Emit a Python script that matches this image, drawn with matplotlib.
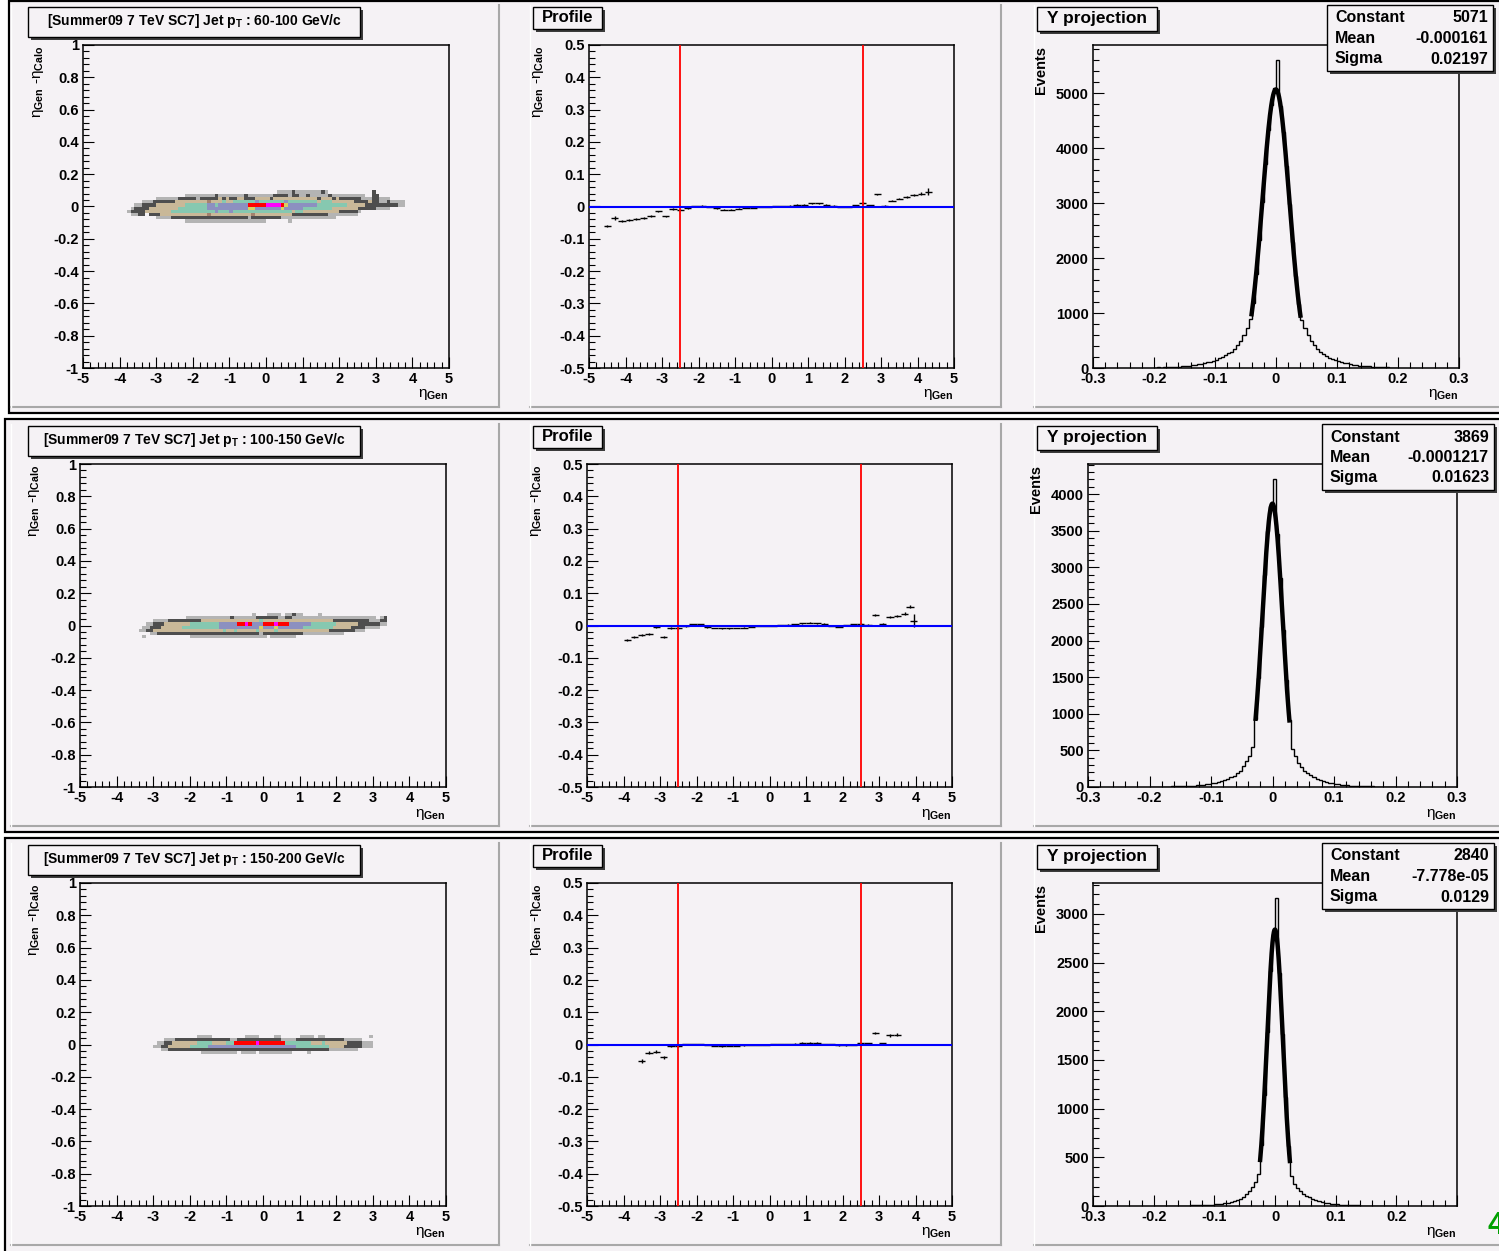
import numpy as np
import matplotlib
matplotlib.use('Agg')
import matplotlib.pyplot as plt
from matplotlib.patches import Rectangle
from matplotlib.lines import Line2D
from matplotlib.colors import ListedColormap, BoundaryNorm
from matplotlib.ticker import MultipleLocator, FixedLocator, FixedFormatter, FuncFormatter

plt.rcParams['font.family'] = ['Liberation Sans', 'DejaVu Sans']
plt.rcParams['font.weight'] = 'bold'
plt.rcParams['mathtext.fontset'] = 'custom'
plt.rcParams['mathtext.rm'] = 'Liberation Sans:bold'
plt.rcParams['mathtext.bf'] = 'Liberation Sans:bold'
plt.rcParams['mathtext.it'] = 'Liberation Sans:italic'

# ---------------- data ----------------
pt_bins = ['60-100', '100-150', '150-200']

# 2D histogram, colour level per cell (0 = empty), cells 0.1 x 0.02, rows top -> bottom
# row 1: x from -3.8, y top 0.10
cells1 = [
    ".......... .......... .......... .......... .111121111 11121..... .......2.. ......",
    ".......... ......1111 1111211111 1121111111 2222122112 1111121111 11111..22. ......",
    "........11 1111222221 2222232322 3322233332 3333333333 3323332322 2222111221 11....",
    "....111222 2223333333 3343335335 5555565555 5556555555 5535553333 3322223221 121111",
    "..11222233 3333335555 5566566666 6668888899 9987666666 6655555555 3333322222 222211",
    ".122223333 3333555555 5566666666 6667766666 6676666655 5555553333 3332222211 11....",
    "1222233333 3355555555 5555655565 5555555555 5555535533 3333333322 2221...... ......",
    ".1122.2223 3333333333 3343333333 3333433333 3333322222 2222211111 111....... ......",
    "........11 1122222222 2222222222 2221222222 2211111111 1111111... .......... ......",
    ".......... ......1111 1111111111 11111111.. ....1..... .......... .......... ......",
]
# row 2: x from -3.4, y top 0.08
cells2 = [
    ".......... .......... .......... .1...1111. 11211....1 .......... ........",
    ".......... ...1111111 1111121111 1122222211 2211111111 1111111111 11111.12",
    "....111122 2222222333 3333333333 3335333333 3333333333 3332222222 22211122",
    "..11222333 3333555555 5566666889 8666888988 8666666555 5555333333 22222211",
    ".112223333 3355555555 5566666666 6667666766 6666655555 5553333322 221111..",
    "1122333333 3333333333 3335335333 3353333533 3333333333 3322222221 11......",
    "...1122222 2222222222 2222222222 2221222222 2222211111 111111.... ........",
    ".1........ ....111111 1111111111 11111.1111 111....... .......... ........",
]
# row 3: x from -3.0, y top 0.06
cells3 = [
    ".......... ..1111.... .....1111. ...11..... 1111.11... .........1",
    "...1112222 2222222222 2112222222 2222211112 2222222222 2211111...",
    ".112233333 3355553333 5588888898 8888885555 5553335333 3332222111",
    "1122333333 5555566666 6666666666 6666666665 5555555533 3322222111",
    "..11222222 2222222222 2222222222 2222222222 2222222211 111111....",
    ".......... ...1111111 111.1111.1 11111111.. ..1....... ..........",
]
cells_x0 = [-3.8, -3.4, -3.0]
cells_ytop = [0.10, 0.08, 0.06]
level_colors = ['#b4b4b4', '#4e4e4e', '#c9b898', '#a4826e', '#86c8b0',
                '#8c90c0', '#d8d060', '#ff0000', '#ff00ff']

# profiles
p1_x = [-4.5, -4.3, -4.1, -3.9, -3.7, -3.5, -3.3, -3.1, -2.9, -2.7, -2.5, -2.3, -2.1, -1.9, -1.7,
        -1.5, -1.3, -1.1, -0.9, -0.7, -0.5, -0.3, -0.1, 0.1, 0.3, 0.5, 0.7, 0.9, 1.1, 1.3,
        1.5, 1.7, 1.9, 2.1, 2.3, 2.5, 2.7, 2.9, 3.1, 3.3, 3.5, 3.7, 3.9, 4.1, 4.3]
p1_y = [-0.060, -0.035, -0.045, -0.043, -0.040, -0.037, -0.030, -0.015, -0.030, -0.008,
        -0.010, -0.006, 0.002, 0.003, -0.002, -0.006, -0.010, -0.010, -0.007, -0.005,
        -0.004, -0.002, 0.000, 0.002, 0.002, 0.003, 0.006, 0.006, 0.010, 0.010,
        0.006, 0.003, -0.001, 0.000, 0.004, 0.010, 0.004, 0.038, 0.003, 0.018,
        0.024, 0.030, 0.035, 0.040, 0.046]
p1_e = [0.003, 0.006, 0.004, 0.003, 0.003, 0.003, 0.003, 0.002, 0.002, 0.002, 0.002, 0.002,
        0.001, 0.001, 0.001, 0.001, 0.001, 0.001, 0.001, 0.001, 0.001, 0.001, 0.001, 0.001,
        0.001, 0.001, 0.001, 0.001, 0.001, 0.001, 0.001, 0.001, 0.001, 0.001,
        0.002, 0.003, 0.002, 0.002, 0.002, 0.002, 0.002, 0.003, 0.003, 0.004, 0.010]

p2_x = [-3.9, -3.7, -3.5, -3.3, -3.1, -2.9, -2.7, -2.5, -2.3, -2.1, -1.9, -1.7, -1.5, -1.3,
        -1.1, -0.9, -0.7, -0.5, -0.3, -0.1, 0.1, 0.3, 0.5, 0.7, 0.9, 1.1, 1.3, 1.5, 1.7,
        1.9, 2.1, 2.3, 2.5, 2.7, 2.9, 3.1, 3.3, 3.5, 3.7, 3.85, 3.95]
p2_y = [-0.045, -0.035, -0.030, -0.025, -0.005, -0.035, -0.008, -0.008, -0.003, 0.004,
        0.004, -0.006, -0.008, -0.009, -0.009, -0.008, -0.007, -0.005, -0.001, 0.000,
        0.000, 0.002, 0.003, 0.004, 0.007, 0.009, 0.007, 0.006, 0.000, -0.005,
        0.002, 0.004, 0.006, 0.003, 0.032, 0.005, 0.025, 0.030, 0.037, 0.058, 0.015]
p2_e = [0.004, 0.004, 0.003, 0.003, 0.003, 0.003, 0.002, 0.002, 0.002,
        0.001, 0.001, 0.001, 0.001, 0.001, 0.001, 0.001, 0.001, 0.001, 0.001, 0.001, 0.001,
        0.001, 0.001, 0.001, 0.001, 0.001, 0.001, 0.001, 0.001, 0.001, 0.001, 0.001,
        0.002, 0.002, 0.003, 0.003, 0.003, 0.003, 0.004, 0.005, 0.020]

p3_x = [-3.5, -3.3, -3.1, -2.9, -2.7, -2.5, -2.3, -2.1, -1.9, -1.7, -1.5, -1.3, -1.1, -0.9,
        -0.7, -0.5, -0.3, -0.1, 0.1, 0.3, 0.5, 0.7, 0.9, 1.1, 1.3, 1.5, 1.7, 1.9, 2.1, 2.3,
        2.5, 2.7, 2.9, 3.1, 3.3, 3.5]
p3_y = [-0.050, -0.025, -0.022, -0.040, -0.005, -0.006, 0.002, 0.002, 0.002, -0.001,
        -0.005, -0.006, -0.005, -0.004, -0.003, -0.001, 0.000, 0.000, 0.001, 0.002,
        0.002, 0.003, 0.006, 0.006, 0.006, 0.002, 0.002, -0.003, -0.003, 0.000,
        0.004, 0.004, 0.035, 0.004, 0.028, 0.030]
p3_e = [0.006, 0.005, 0.004, 0.004, 0.003,
        0.001, 0.001, 0.001, 0.001, 0.001, 0.001, 0.001, 0.001, 0.001, 0.001, 0.001, 0.001,
        0.001, 0.001, 0.001, 0.001, 0.001, 0.001, 0.001, 0.001, 0.001, 0.001, 0.001, 0.001,
        0.001, 0.001,
        0.002, 0.004, 0.002, 0.006, 0.005]

# Y projections, bins of 0.005 from -0.2 to 0.2
h1 = [8, 10, 9, 12, 14, 15, 18, 20, 25, 30,
      35, 42, 50, 58, 68, 80, 92, 105, 118, 135,
      150, 175, 200, 230, 265, 300, 350, 420, 500, 600,
      730, 900, 1190, 1710, 2330, 3020, 3710, 4330, 4790, 5100,
      5600, 4770, 4290, 3670, 2980, 2290, 1680, 1160, 880, 720,
      600, 500, 420, 350, 290, 250, 210, 185, 160, 140,
      125, 110, 95, 82, 70, 60, 52, 45, 38, 33,
      28, 24, 20, 17, 15, 13, 11, 9, 8, 7]
h2 = [3, 3, 4, 4, 5, 5, 6, 7, 8, 9,
      10, 12, 14, 16, 19, 22, 26, 30, 35, 41,
      48, 56, 66, 78, 92, 110, 130, 155, 185, 225,
      280, 350, 430, 540, 930, 1490, 2180, 2890, 3490, 3830,
      4200, 3460, 2860, 2140, 1460, 910, 520, 420, 330, 270,
      225, 190, 160, 135, 115, 100, 85, 72, 60, 50,
      42, 36, 30, 26, 22, 19, 16, 14, 12, 10,
      9, 8, 7, 6, 5, 5, 4, 4, 3, 3]
h3 = [2, 2, 2, 2, 3, 3, 3, 3, 4, 4,
      5, 5, 6, 7, 8, 9, 10, 11, 13, 15,
      18, 21, 25, 30, 35, 42, 50, 62, 75, 95,
      120, 155, 200, 250, 330, 625, 1140, 1785, 2410, 2790,
      3160, 2390, 1765, 1120, 615, 310, 230, 180, 150, 125,
      105, 90, 75, 60, 50, 42, 35, 29, 24, 20,
      17, 14, 12, 10, 9, 8, 7, 6, 5, 5,
      4, 4, 3, 3, 3, 3, 2, 2, 2, 2]
h_edges = np.linspace(-0.2, 0.2, 81)

# gaussian fits: constant, mean, sigma, fit range
fit_const = [5071, 3869, 2840]
fit_mean = [-0.000161, -0.0001217, -7.778e-05]
fit_sigma = [0.02197, 0.01623, 0.0129]
fit_range = [(-0.040, 0.040), (-0.0275, 0.0275), (-0.0245, 0.0245)]
stat_vals = [['5071', '-0.000161', '0.02197'],
             ['3869', '-0.0001217', '0.01623'],
             ['2840', '-7.778e-05', '0.0129']]

hist_yticks = [[0, 1000, 2000, 3000, 4000, 5000],
               [0, 500, 1000, 1500, 2000, 2500, 3000, 3500, 4000],
               [0, 500, 1000, 1500, 2000, 2500, 3000]]
hist_yminor = [200, 100, 100]
hist_xticks = [-0.3, -0.2, -0.1, 0, 0.1, 0.2, 0.3]
hist_xlabels = [['-0.3', '-0.2', '-0.1', '0', '0.1', '0.2', '0.3'],
                ['-0.3', '-0.2', '-0.1', '0', '0.1', '0.2', '0.3'],
                ['-0.3', '-0.2', '-0.1', '0', '0.1', '0.2', '']]

profiles = [(p1_x, p1_y, p1_e), (p2_x, p2_y, p2_e), (p3_x, p3_y, p3_e)]
hists = [h1, h2, h3]
cells = [cells1, cells2, cells3]

# ---------------- layout (pixels) ----------------
W, H = 1499, 1251
PAD = '#f5f2f5'
row_top = [0, 419, 838]
row_box = [(9, 1, 1505, 413), (5, 419, 1505, 832), (5, 838, 1505, 1255)]
ax1_x = [(83, 449), (80, 446), (80, 446)]
ax2_x = [(589, 954), (587, 952), (587, 952)]
ax3_x = [(1093, 1459), (1088, 1457), (1093, 1457)]
stat_x = [(1327, 1493), (1322, 1494), (1322, 1494)]

fig = plt.figure(figsize=(W / 100, H / 100), dpi=100)
fig.patch.set_facecolor('white')


def fx(x):
    return x / W


def fy(y):
    return 1 - y / H


def rect(x0, y0, x1, y1, z, **kw):
    fig.add_artist(Rectangle((fx(x0), fy(y1)), (x1 - x0) / W, (y1 - y0) / H,
                             transform=fig.transFigure, zorder=z, **kw))


def line(xs, ys, z=-1, **kw):
    fig.add_artist(Line2D([fx(x) for x in xs], [fy(y) for y in ys],
                          transform=fig.transFigure, zorder=z, **kw))


def box(x0, y0, x1, y1):
    rect(x0 + 3, y0 + 3, x1 + 3, y1 + 3, 5, facecolor='#3c3c3c', edgecolor='none')
    rect(x0, y0, x1, y1, 5.5, facecolor=PAD, edgecolor='black', linewidth=1.0)


def add_ax(x0, x1, r):
    y0, y1 = r + 45, r + 368
    ax = fig.add_axes([fx(x0), fy(y1), (x1 - x0) / W, (y1 - y0) / H])
    ax.set_facecolor('none')
    for s in ax.spines.values():
        s.set_linewidth(1.1)
    ax.tick_params(which='both', direction='in', top=False, right=False,
                   width=0.8, labelsize=10.5, pad=3)
    ax.tick_params(which='major', length=8)
    ax.tick_params(which='minor', length=4)
    return ax


fmt = FuncFormatter(lambda v, p: f'{round(v, 6) + 0.0:g}')
cmap = ListedColormap(level_colors)
norm = BoundaryNorm(np.arange(0.5, 10.5, 1), cmap.N)
eta_gen = 'η$_{\\mathbf{Gen}}$'
eta_diff = 'η$_{\\mathbf{Gen}}$ -η$_{\\mathbf{Calo}}$'

for i in range(3):
    r = row_top[i]
    bx = row_box[i]
    rect(bx[0], bx[1], bx[2], bx[3], -5, facecolor=PAD, edgecolor='black', linewidth=1.6)
    for (px0, px1) in [(11, 499), (530, 1001), (1034, 1505)]:
        line([px0, px1], [r + 407, r + 407], color='#a8a8a8', linewidth=1.5)
        line([px1, px1], [r + 5, r + 407], color='#a8a8a8', linewidth=1.5)
        line([px0, px0], [r + 5, r + 407], color='white', linewidth=1.0)

    # ---- 2D histogram ----
    ax = add_ax(*ax1_x[i], r)
    rows = ["".join(s.split()) for s in cells[i]]
    ncol = max(len(s) for s in rows)
    z = np.array([[0 if c == '.' else int(c) for c in s.ljust(ncol, '.')[:ncol]] for s in rows])
    z = np.ma.masked_equal(z[::-1], 0)
    xe = cells_x0[i] + 0.1 * np.arange(ncol + 1)
    ye = cells_ytop[i] - 0.02 * len(rows) + 0.02 * np.arange(len(rows) + 1)
    ax.pcolormesh(xe, ye, z, cmap=cmap, norm=norm)
    ax.set_xlim(-5, 5)
    ax.set_ylim(-1, 1)
    ax.xaxis.set_major_locator(MultipleLocator(1))
    ax.xaxis.set_minor_locator(MultipleLocator(0.2))
    ax.yaxis.set_major_locator(MultipleLocator(0.2))
    ax.yaxis.set_minor_locator(MultipleLocator(0.04))
    ax.xaxis.set_major_formatter(fmt)
    ax.yaxis.set_major_formatter(fmt)
    x0, x1 = ax1_x[i]
    fig.text(fx(x1), fy(r + 395), eta_gen, ha='right', va='center', fontsize=11,
             fontweight='normal')
    fig.text(fx(x0 - 45), fy(r + 46), eta_diff, ha='center', va='top', rotation=90,
             fontsize=11, fontweight='normal')
    box(28, r + 7, 360, r + 37)
    fig.text(fx(194), fy(r + 21),
             '[Summer09 7 TeV SC7] Jet p$_{\\mathbf{T}}$ : ' + pt_bins[i] + ' GeV/c',
             ha='center', va='center', fontsize=10, zorder=7)

    # ---- profile ----
    ax = add_ax(*ax2_x[i], r)
    px, py, pe = profiles[i]
    ax.errorbar(px, py, xerr=0.1, yerr=pe, fmt='none', ecolor='black', elinewidth=1.0,
                zorder=2)
    ax.axvline(-2.5, color='#ff0000', linewidth=1.3, zorder=3)
    ax.axvline(2.5, color='#ff0000', linewidth=1.3, zorder=3)
    ax.axhline(0, color='#0000ff', linewidth=1.5, zorder=3)
    ax.set_xlim(-5, 5)
    ax.set_ylim(-0.5, 0.5)
    ax.xaxis.set_major_locator(MultipleLocator(1))
    ax.xaxis.set_minor_locator(MultipleLocator(0.2))
    ax.yaxis.set_major_locator(MultipleLocator(0.1))
    ax.yaxis.set_minor_locator(MultipleLocator(0.02))
    ax.xaxis.set_major_formatter(fmt)
    ax.yaxis.set_major_formatter(fmt)
    x0, x1 = ax2_x[i]
    fig.text(fx(x1), fy(r + 395), eta_gen, ha='right', va='center', fontsize=11,
             fontweight='normal')
    fig.text(fx(x0 - 51), fy(r + 46), eta_diff, ha='center', va='top', rotation=90,
             fontsize=11, fontweight='normal')
    box(533, r + 7, 602, r + 29)
    fig.text(fx(567.5), fy(r + 17.5), 'Profile', ha='center', va='center', fontsize=12,
             zorder=7)

    # ---- Y projection ----
    ax = add_ax(*ax3_x[i], r)
    ax.stairs(hists[i], h_edges, color='black', linewidth=1.0)
    lo, hi = fit_range[i]
    fxs = np.linspace(lo, hi, 200)
    ax.plot(fxs, fit_const[i] * np.exp(-0.5 * ((fxs - fit_mean[i]) / fit_sigma[i]) ** 2),
            color='black', linewidth=3.2)
    ax.set_xlim(-0.3, 0.3)
    ax.set_ylim(0, 1.05 * max(hists[i]))
    ax.xaxis.set_major_locator(FixedLocator(hist_xticks))
    ax.xaxis.set_major_formatter(FixedFormatter(hist_xlabels[i]))
    ax.xaxis.set_minor_locator(MultipleLocator(0.02))
    ax.yaxis.set_major_locator(FixedLocator(hist_yticks[i]))
    ax.yaxis.set_major_formatter(FixedFormatter([str(v) for v in hist_yticks[i]]))
    ax.yaxis.set_minor_locator(MultipleLocator(hist_yminor[i]))
    x0, x1 = ax3_x[i]
    fig.text(fx(x1), fy(r + 395), eta_gen, ha='right', va='center', fontsize=11,
             fontweight='normal')
    fig.text(fx(x0 - 52), fy(r + 46), 'Events', ha='center', va='top', rotation=90,
             fontsize=10.5)
    box(1037, r + 7, 1157, r + 31)
    fig.text(fx(1097), fy(r + 18.5), 'Y projection', ha='center', va='center',
             fontsize=12.5, zorder=7)
    sx0, sx1 = stat_x[i]
    box(sx0, r + 5, sx1, r + 71)
    for k, name in enumerate(['Constant', 'Mean', 'Sigma']):
        yy = r + 18 + 20.5 * k
        fig.text(fx(sx0 + 8), fy(yy), name, ha='left', va='center', fontsize=11.5, zorder=7)
        fig.text(fx(sx1 - 5), fy(yy), stat_vals[i][k], ha='right', va='center',
                 fontsize=11.5, zorder=7)

fig.text(fx(1487), fy(1226), '4', color='#00a000', fontsize=22, ha='left', va='center',
         zorder=8)

fig.savefig('out.png', dpi=100, facecolor=fig.get_facecolor())
